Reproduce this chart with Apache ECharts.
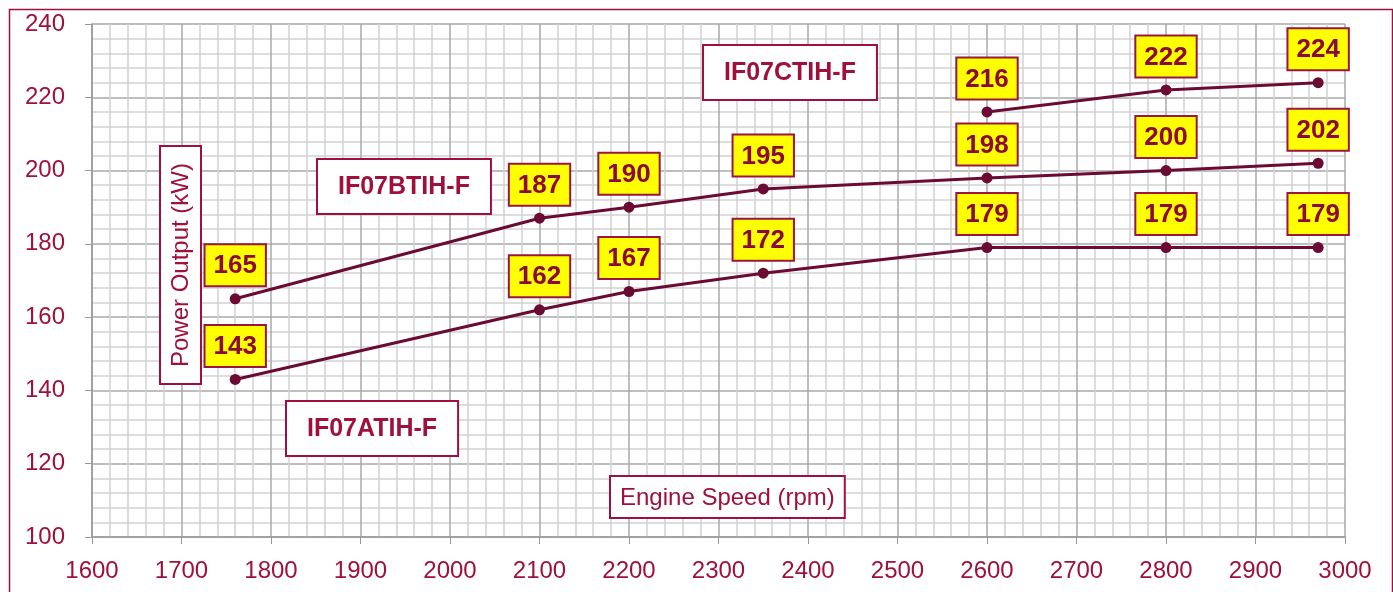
<!DOCTYPE html>
<html><head><meta charset="utf-8">
<script src="https://cdn.jsdelivr.net/npm/echarts@6/dist/echarts.min.js"></script>
<style>html,body{margin:0;padding:0;background:#fff}#c{width:1393px;height:592px}</style>
</head><body><div id="c"></div>
<script>
var speedA = [1760, 2100, 2200, 2350, 2600, 2800, 2970];
var powerA = [143, 162, 167, 172, 179, 179, 179];
var speedB = [1760, 2100, 2200, 2350, 2600, 2800, 2970];
var powerB = [165, 187, 190, 195, 198, 200, 202];
var speedC = [2600, 2800, 2970];
var powerC = [216, 222, 224];
var modelNames = ['IF07ATIH-F', 'IF07BTIH-F', 'IF07CTIH-F'];
var xTitle = 'Engine Speed (rpm)';
var yTitle = 'Power Output (kW)';

var FONT = '"Liberation Sans", Arial, sans-serif';
var RED = '#a0103c';
var LINE = '#6b0a33';

function pairs(xs, ys) { return xs.map(function (x, i) { return [x, ys[i]]; }); }

var labelStyle = {
  show: true, position: 'top', distance: 8,
  backgroundColor: '#ffff00', borderColor: '#9b1540', borderWidth: 2,
  padding: [8, 8, 6, 8], fontSize: 26, fontWeight: 'bold', color: '#8b0a3a', fontFamily: FONT
};

function mkSeries(name, xs, ys) {
  return {
    name: name, type: 'line', data: pairs(xs, ys),
    symbol: 'circle', symbolSize: 11,
    lineStyle: { color: LINE, width: 3 },
    itemStyle: { color: LINE },
    label: labelStyle, z: 3
  };
}

function boxText(x, y, text, size, bold, pad, rot) {
  return {
    type: 'text', left: x, top: y, rotation: rot || 0, z: 10,
    style: {
      text: text, fontSize: size, fontWeight: bold ? 'bold' : 'normal', fill: RED, fontFamily: FONT,
      backgroundColor: '#fff', borderColor: RED, borderWidth: 2, padding: pad
    }
  };
}

var axisCommon = {
  axisLine: { show: true, lineStyle: { color: '#999', width: 1.5 } },
  axisTick: { show: true, length: 7, lineStyle: { color: '#999' } },
  splitLine: { show: true, lineStyle: { color: '#a8a8a8', width: 1.5 } },
  minorTick: { show: false, splitNumber: 5 },
  minorSplitLine: { show: true, lineStyle: { color: '#d2d2d2', width: 1.5 } }
};

var chart = echarts.init(document.getElementById('c'));
chart.setOption({
  animation: false,
  grid: { left: 92, right: 48, top: 24, bottom: 55 },
  xAxis: Object.assign({
    type: 'value', min: 1600, max: 3000, interval: 100,
    axisLabel: { color: RED, fontSize: 24, fontFamily: FONT, margin: 22, formatter: function (v) { return String(v); } }
  }, axisCommon),
  yAxis: Object.assign({
    type: 'value', min: 100, max: 240, interval: 20,
    axisLabel: { color: RED, fontSize: 24, fontFamily: FONT, margin: 27 }
  }, axisCommon),
  series: [
    mkSeries(modelNames[0], speedA, powerA),
    mkSeries(modelNames[1], speedB, powerB),
    mkSeries(modelNames[2], speedC, powerC)
  ],
  graphic: [
    { type: 'rect', left: 7, top: 7, shape: { width: 1383, height: 620 }, style: { fill: 'none', stroke: RED, lineWidth: 1.5 }, z: 0, silent: true },
    boxText(702, 44, modelNames[2], 25, true, [15, 20, 13, 20]),
    boxText(316, 158, modelNames[1], 25, true, [15, 20, 13, 20]),
    boxText(285, 400, modelNames[0], 25, true, [15, 20, 13, 20]),
    boxText(609, 475, xTitle, 24, false, [9, 9, 7, 9]),
    boxText(159, 145, yTitle, 24, false, [8, 16, 7, 16], Math.PI / 2)
  ]
});
</script></body></html>
